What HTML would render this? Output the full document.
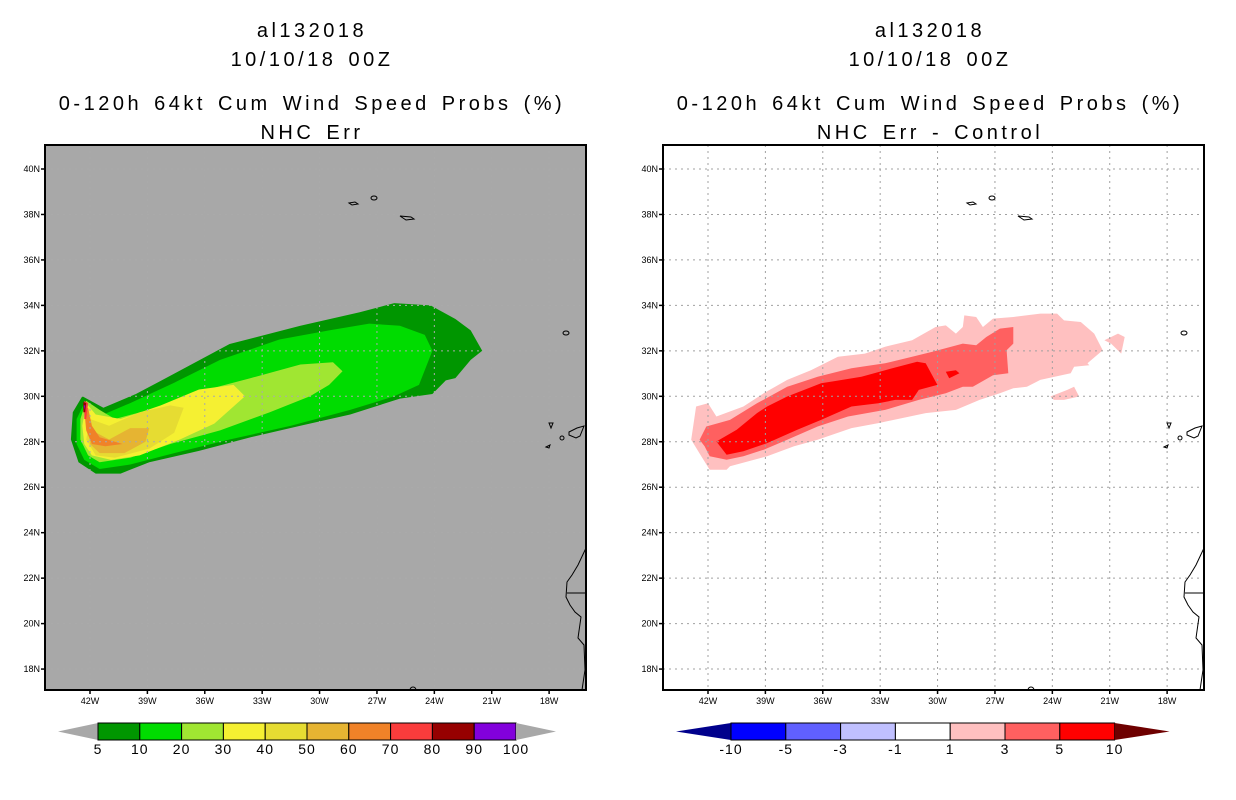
<!DOCTYPE html>
<html><head><meta charset="utf-8"><style>
html,body{margin:0;padding:0;background:#fff;}
svg{display:block;font-family:"Liberation Sans",sans-serif;}
.tt{letter-spacing:3.5px;word-spacing:3px;}
</style></head><body>
<svg id="chart" width="1236" height="800" viewBox="0 0 1236 800" xmlns="http://www.w3.org/2000/svg">
<g font-size="20" text-anchor="middle" fill="#000" class="tt">
<text x="312" y="37">al132018</text><text x="312" y="66">10/10/18 00Z</text>
<text x="312" y="110">0-120h 64kt Cum Wind Speed Probs (%)</text><text x="312" y="139">NHC Err</text></g>
<g font-size="20" text-anchor="middle" fill="#000" class="tt">
<text x="930" y="37">al132018</text><text x="930" y="66">10/10/18 00Z</text>
<text x="930" y="110">0-120h 64kt Cum Wind Speed Probs (%)</text><text x="930" y="139">NHC Err - Control</text></g>
</svg>
<script>
const latTicks=[40,38,36,34,32,30,28,26,24,22,20,18];
const lonTicks=[42,39,36,33,30,27,24,21,18];
const leftLevels=["5","10","20","30","40","50","60","70","80","90","100"];
const leftColors=["#009600","#00dc00","#a0e632","#f5f032","#e6dc32","#e6b432","#f08228","#fa3c3c","#960000","#8200dc"];
const rightLevels=["-10","-5","-3","-1","1","3","5","10"];
const rightColors=["#0000ff","#6060ff","#c0c0ff","#ffffff","#ffc0c0","#ff6060","#ff0000"];
const p5=[[-21.5,32.0],[-22.1,32.9],[-22.9,33.4],[-24.2,34.0],[-26.1,34.1],[-27.9,33.7],[-31.0,33.1],[-34.7,32.3],[-37.8,30.9],[-39.6,30.1],[-41.3,29.5],[-42.4,30.0],[-42.9,29.3],[-43.0,28.1],[-42.6,27.1],[-41.7,26.6],[-40.4,26.6],[-38.9,27.1],[-36.3,27.6],[-33.6,28.2],[-31.0,28.7],[-28.4,29.2],[-25.8,29.9],[-24.1,30.1],[-23.4,30.7],[-22.9,30.8],[-22.1,31.6]];
const p10=[[-24.1,32.0],[-24.5,32.7],[-25.8,33.1],[-27.4,33.2],[-29.5,32.9],[-32.1,32.5],[-35.2,31.6],[-37.6,30.6],[-39.9,29.7],[-41.3,29.2],[-42.3,29.7],[-42.7,29.0],[-42.7,27.9],[-42.3,27.2],[-41.5,26.8],[-39.9,27.0],[-37.6,27.5],[-34.7,28.1],[-31.5,28.7],[-28.4,29.4],[-26.1,30.0],[-24.8,30.5]];
const p20=[[-28.8,31.1],[-29.3,31.5],[-31.0,31.4],[-33.6,30.8],[-36.3,30.2],[-38.9,29.4],[-40.7,29.0],[-41.5,29.4],[-42.2,29.8],[-42.5,29.0],[-42.5,28.1],[-42.1,27.4],[-41.5,27.1],[-39.9,27.3],[-37.8,27.9],[-35.2,28.5],[-32.6,29.3],[-30.5,30.0],[-29.5,30.5]];
const p30=[[-33.9,30.0],[-34.5,30.5],[-36.3,30.3],[-38.3,29.6],[-40.4,29.0],[-41.7,29.2],[-42.2,29.7],[-42.4,28.7],[-42.3,27.9],[-41.9,27.4],[-40.9,27.2],[-39.4,27.4],[-37.3,28.1],[-35.5,28.8]];
const p40=[[-37.1,29.5],[-37.8,29.6],[-39.4,29.3],[-41.0,28.7],[-42.0,29.0],[-42.2,28.1],[-41.7,27.4],[-40.7,27.3],[-38.9,27.7],[-37.6,28.4]];
const p50=[[-38.9,28.6],[-39.9,28.6],[-41.0,28.1],[-41.9,28.5],[-42.0,27.9],[-41.5,27.5],[-40.2,27.5],[-39.1,28.0]];
const p60=[[-42.1,29.5],[-41.9,28.7],[-41.5,28.2],[-40.3,27.9],[-41.2,27.8],[-41.9,27.9],[-42.2,28.5],[-42.3,29.4]];
const p70=[[-42.3,29.8],[-42.1,29.7],[-42.2,29.0],[-42.3,29.0]];
const p80=[[-42.35,29.75],[-42.2,29.7],[-42.25,29.3],[-42.35,29.3]];
const p90=[[-42.32,29.6],[-42.25,29.6],[-42.28,29.4]];
const r1=[[-42.88,28.09],[-42.62,29.55],[-42.0,29.69],[-41.56,29.11],[-40.15,29.55],[-39.09,30.13],[-37.86,30.72],[-36.62,31.15],[-35.21,31.74],[-33.8,31.88],[-32.74,32.18],[-31.33,32.47],[-30.1,33.05],[-29.57,33.12],[-29.04,32.76],[-28.68,33.05],[-28.6,33.56],[-27.98,33.49],[-27.63,33.05],[-27.1,33.42],[-26.04,33.49],[-24.63,33.64],[-23.75,33.64],[-23.39,33.34],[-22.51,33.27],[-21.81,32.76],[-21.37,32.03],[-22.16,31.45],[-22.07,31.37],[-22.86,31.3],[-23.04,31.01],[-24.63,30.72],[-25.33,30.42],[-26.04,30.35],[-26.74,30.13],[-27.8,29.84],[-29.04,29.4],[-30.62,29.26],[-33.09,28.82],[-34.5,28.6],[-36.27,28.09],[-37.5,27.8],[-38.91,27.36],[-40.85,26.92],[-41.03,26.77],[-41.91,26.77],[-42.35,27.36]];
const r1b=[[-21.28,32.47],[-20.57,32.76],[-20.22,32.61],[-20.4,31.88],[-20.93,32.32]];
const r1c=[[-24.1,29.99],[-23.22,30.28],[-22.86,30.42],[-22.6,29.99],[-23.39,29.84],[-23.92,29.84]];
const r3=[[-42.44,28.09],[-42.09,28.67],[-40.85,28.96],[-39.44,29.69],[-37.86,30.42],[-36.27,30.86],[-34.5,31.23],[-32.74,31.45],[-31.33,31.74],[-30.27,31.96],[-28.68,32.32],[-27.98,32.25],[-27.45,32.61],[-26.74,32.98],[-26.04,33.05],[-26.04,32.32],[-26.39,32.03],[-26.3,31.01],[-27.1,30.93],[-28.16,30.42],[-28.68,30.42],[-29.57,30.13],[-30.98,29.84],[-32.74,29.4],[-34.68,29.11],[-36.27,28.67],[-37.86,28.09],[-39.09,27.65],[-40.15,27.36],[-41.03,27.21],[-41.91,27.36],[-42.18,27.8]];
const r5=[[-41.56,28.01],[-40.5,28.53],[-39.44,29.26],[-38.91,29.55],[-37.86,29.99],[-36.09,30.57],[-33.98,30.86],[-32.74,31.15],[-31.07,31.52],[-30.62,31.45],[-30.01,30.5],[-30.98,30.28],[-31.33,29.84],[-32.21,29.84],[-33.09,29.69],[-34.5,29.55],[-36.09,28.96],[-37.33,28.53],[-38.91,27.94],[-40.15,27.58],[-41.03,27.43]];
const r5b=[[-29.57,31.08],[-29.04,31.15],[-28.86,31.01],[-29.39,30.79]];

const NS="http://www.w3.org/2000/svg";
const svg=document.getElementById('chart');
function mk(tag,attrs,parent){const e=document.createElementNS(NS,tag);for(const k in attrs)e.setAttribute(k,attrs[k]);(parent||svg).appendChild(e);return e;}
function xs(lon,off){return off+90+(lon+42)*19.13;}
function ys(lat){return 169+(40-lat)*22.73;}
function poly(g,pts,off,fill,name){const p=mk('polygon',{points:pts.map(q=>xs(q[0],off).toFixed(1)+','+ys(q[1]).toFixed(1)).join(' '),fill:fill},g);

}

function panel(off,bg,polys,gridCol,name){
  const g=mk('g',{});
  
  
  const L=45+off,R=586+off,T=145,B=690;
  mk('rect',{x:L,y:T,width:R-L,height:B-T,fill:bg},g);
  polys.forEach(a=>poly(g,a[0],off,a[1],a[2]));
  latTicks.forEach(t=>{const y=ys(t);
    const gl=mk('line',{x1:L,x2:R,y1:y,y2:y,stroke:gridCol,'stroke-width':1,'stroke-dasharray':'2,4'},g);
    
    
    mk('line',{x1:L-4,x2:L,y1:y,y2:y,stroke:'#000','stroke-width':1.5},g);
    const tx=mk('text',{x:L-5,y:y+3,'font-size':9,'text-anchor':'end'},g);tx.textContent=t+'N';
    
    });
  lonTicks.forEach(t=>{const x=xs(-t,off);
    const gl=mk('line',{x1:x,x2:x,y1:T,y2:B,stroke:gridCol,'stroke-width':1,'stroke-dasharray':'2,4'},g);
    
    
    mk('line',{x1:x,x2:x,y1:B,y2:B+4,stroke:'#000','stroke-width':1.5},g);
    const tx=mk('text',{x:x,y:B+14,'font-size':9,'text-anchor':'middle'},g);tx.textContent=t+'W';
    
    });
  const land=mk('g',{fill:'none',stroke:'#000','stroke-width':1},g);
  
  
  const o=off;
  [`M${349+o},203 l6,-1 l3,2 l-6,1 z`,`M${371+o},198 a3,2 0 1,0 6,0 a3,2 0 1,0 -6,0`,`M${400+o},216 l6,4 l8,-1 l-3,-2 z`,
   `M${563+o},333 a3,2 0 1,0 6,0 a3,2 0 1,0 -6,0`,`M${549+o},423 l2,5 l2,-5 z`,`M${560+o},438 a2,2 0 1,0 4,0 a2,2 0 1,0 -4,0`,
   `M${569+o},432 l8,-4 l7,-2 l-4,10 l-4,2 l-7,-3 z`,`M${546+o},447 l4,-2 l-1,3 z`,
   `M${586+o},548 L${578+o},565 L${572+o},575 L${567+o},582 L${566+o},597 L${570+o},605 L${575+o},612 L${581+o},617 L${578+o},638 L${584+o},645 L${585+o},670 L${582+o},690`,
   `M${567+o},593 L${586+o},593`,`M${410+o},690 a3,3 0 0,1 6,0`].forEach(d=>mk('path',{d:d},land));
  mk('rect',{x:L,y:T,width:R-L,height:B-T,fill:'none',stroke:'#000','stroke-width':2},g);
}
panel(0,'#a8a8a8',[[p5,leftColors[0],'contour-5'],[p10,leftColors[1],'contour-10'],[p20,leftColors[2],'contour-20'],[p30,leftColors[3],'contour-30'],[p40,leftColors[4],'contour-40'],[p50,leftColors[5],'contour-50'],[p60,leftColors[6],'contour-60'],[p70,leftColors[7],'contour-70'],[p80,leftColors[8],'contour-80'],[p90,leftColors[9],'contour-90']],'#aaaaaa','left-map-panel');
panel(618,'#ffffff',[[r1,rightColors[4],'diff-contour-1'],[r1b,rightColors[4],'diff-contour-1b'],[r1c,rightColors[4],'diff-contour-1c'],[r3,rightColors[5],'diff-contour-3'],[r5,rightColors[6],'diff-contour-5'],[r5b,rightColors[6],'diff-contour-5b']],'#a0a0a0','right-map-panel');

function colorbar(x0,w,y0,h,tri,colors,labels,lowCol,highCol,name){
  const g=mk('g',{});
  
  
  const lt=mk('polygon',{points:`${x0-tri},${y0+h/2} ${x0},${y0} ${x0},${y0+h}`,fill:lowCol},g);
  
  
  colors.forEach((c,i)=>{const r=mk('rect',{x:x0+i*w,y:y0,width:w,height:h,fill:c,stroke:'#000','stroke-width':1},g);
    
    });
  const xe=x0+colors.length*w;
  const rt=mk('polygon',{points:`${xe},${y0} ${xe+tri},${y0+h/2} ${xe},${y0+h}`,fill:highCol},g);
  
  
  labels.forEach((l,i)=>{const t=mk('text',{x:x0+i*w,y:y0+h+14,'font-size':14,'text-anchor':'middle','letter-spacing':1},g);t.textContent=l;
    
    });
}
colorbar(98,41.8,723,17,40,leftColors,leftLevels,'#a8a8a8','#a8a8a8','left-colorbar');
colorbar(731,54.8,723,17,55,rightColors,rightLevels,'#00008c','#6e0000','right-colorbar');
</script>
</body></html>
